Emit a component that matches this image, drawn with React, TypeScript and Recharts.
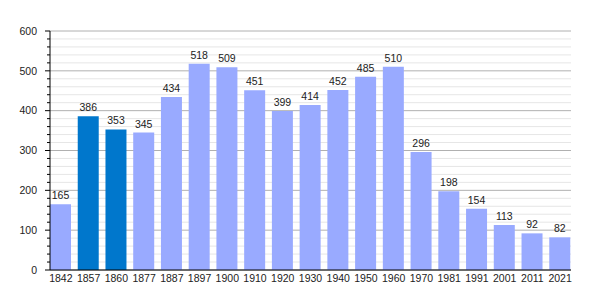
import React from 'react';
import { BarChart, Bar, XAxis, YAxis, CartesianGrid, LabelList, Cell } from 'recharts';

const years = ['1842', '1857', '1860', '1877', '1887', '1897', '1900', '1910', '1920', '1930', '1940', '1950', '1960', '1970', '1981', '1991', '2001', '2011', '2021'];
const population = [165, 386, 353, 345, 434, 518, 509, 451, 399, 414, 452, 485, 510, 296, 198, 154, 113, 92, 82];
const highlighted = ['1857', '1860'];

const majorTicks = [0, 100, 200, 300, 400, 500, 600];
const minorTicks = [20, 40, 60, 80, 120, 140, 160, 180, 220, 240, 260, 280, 320, 340, 360, 380, 420, 440, 460, 480, 520, 540, 560, 580];
const allTicks = [...majorTicks, ...minorTicks].sort((a, b) => a - b);

const data = years.map((year, i) => ({ year, pop: population[i] }));

const colors = {
  bar: '#99aaff',
  highlight: '#0077cc',
  major: '#b0b0b0',
  minor: '#e6e6e6',
  text: '#222222',
};

const TICK_SIZE = 5;
const TICK_MARGIN = 8;

// y-axis ticks: long ones with a label every 100, short unlabeled ones every 20
function YTick(props: any) {
  const { x, y, payload } = props;
  const axisX = x + TICK_SIZE + TICK_MARGIN;
  const major = payload.value % 100 === 0;
  return (
    <g>
      <line x1={axisX - (major ? TICK_SIZE : 3)} x2={axisX} y1={y} y2={y} stroke="#000" />
      {major && (
        <text x={x} y={y} dy="0.35em" textAnchor="end" fontSize={10.5} fill={colors.text}>
          {payload.value}
        </text>
      )}
    </g>
  );
}

export default function App() {
  return (
    <div style={{ position: 'fixed', left: 0, top: 0, width: 600, height: 300, background: '#fff', fontFamily: '"Liberation Sans", Arial, sans-serif' }}>
      <BarChart width={600} height={300} data={data} margin={{ top: 31, right: 29, left: 0, bottom: 10 }}>
        <CartesianGrid vertical={false} horizontalValues={minorTicks} stroke={colors.minor} />
        <CartesianGrid vertical={false} horizontalValues={majorTicks} stroke={colors.major} />
        <XAxis dataKey="year" height={20} padding={{ left: -3, right: -3 }} axisLine={{ stroke: '#000' }}
          tickLine={false} tickSize={0} tickMargin={5} interval={0} fontSize={10.5} tick={{ fill: colors.text }} />
        <YAxis width={50} domain={[0, 600]} ticks={allTicks} interval={0} axisLine={{ stroke: '#000' }}
          tickLine={false} tickSize={TICK_SIZE} tickMargin={TICK_MARGIN} tick={<YTick />} />
        <Bar dataKey="pop" barSize={21} isAnimationActive={false}>
          {data.map((d) => (
            <Cell key={d.year} fill={highlighted.includes(d.year) ? colors.highlight : colors.bar} />
          ))}
          <LabelList dataKey="pop" position="top" offset={5} fontSize={10.5} fill={colors.text} />
        </Bar>
      </BarChart>
    </div>
  );
}
